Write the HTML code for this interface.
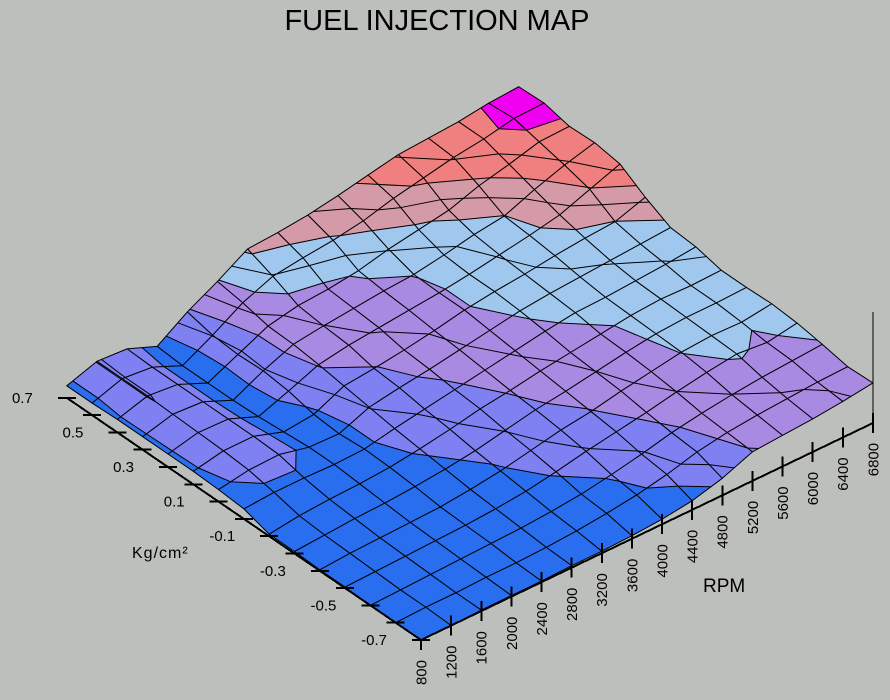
<!DOCTYPE html>
<html><head><meta charset="utf-8">
<style>
html,body{margin:0;padding:0;background:#bdbfbc;}
svg{display:block;}
text{font-family:"Liberation Sans",Arial,sans-serif;fill:#000;}
</style></head>
<body>
<svg id="s" width="890" height="700" viewBox="0 0 890 700" xmlns="http://www.w3.org/2000/svg">
<rect width="890" height="700" fill="#bdbfbc"/>
<text x="437" y="30" font-size="29" text-anchor="middle">FUEL INJECTION MAP</text>
<g id="surf"></g>
<g id="axes" stroke="#000" stroke-width="2" shape-rendering="crispEdges"></g>
<g id="lbl" font-size="15"></g>
<text x="132" y="558" font-size="16" letter-spacing="1">Kg/cm²</text>
<text x="703" y="592" font-size="19">RPM</text>
</svg>
<script>
const Z=[
[0,0,1,1,1,2,2,3,5,9,17,29,31,33,36,40],
[0,1,1,2,2,3,5,8,12,18,26,31,34,36,38,39],
[0,1,2,3,4,5,7,10,15,21,28,33,37,40,42,44],
[1,2,3,4,5,7,10,15,21,26,31,37,42,46,43,48],
[1,3,4,5,6,9,13,19,25,29,35,40,45,47,46,50],
[2,4,6,7,9,12,16,22,28,32,37,42,46,48,48,49],
[2,6,8,9,11,15,20,26,30,35,39,43,47,49,48,49],
[10,12,12,11,12,18,23,28,33,38,43,47,48,50,52,55],
[12,17,18,11,10,22,27,31,36,41,46,49,51,53,55,57],
[13,19,19,9,12,26,29,33,38,44,48,51,55,58,60,70],
[13,20,19,7,18,30,35,38,41,44,48,53,58,64,75,86],
[13,21,19,6,21,33,37,40,43,45,50,56,60,72,82,90],
[13,22,19,6,20,34,40,42,46,53,58,63,73,80,88,89],
[12,22,19,6,22,40,52,56,59,64,72,78,84,88,94,95],
[12,22,20,8,28,44,62,64,67,72,78,84,86,88,92,94]
];
const LV=[14,29.4,44.8,60.2,75.6,91];
const COL=['#2a6ef0','#7f80f2','#a88ae2','#a0c8ee','#d49aa8','#f08080','#f000f0'];
const CL=[];for(let k=0;k<=10;k++)CL.push(14+7.7*k);
function pt(i,j){const z=Z[j][i];return {x:421+30.13*i-25.3*j,y:640-14.47*i-17.3*j-z,z:z};}
function lerp(a,b,t){return {x:a.x+(b.x-a.x)*t,y:a.y+(b.y-a.y)*t,z:a.z+(b.z-a.z)*t};}
function clip(poly,L,above){
  const out=[];
  for(let k=0;k<poly.length;k++){
    const a=poly[k],b=poly[(k+1)%poly.length];
    const ia=above?a.z>=L:a.z<=L, ib=above?b.z>=L:b.z<=L;
    if(ia)out.push(a);
    if(ia!==ib){const t=(L-a.z)/(b.z-a.z);out.push(lerp(a,b,t));}
  }
  return out;
}
function ps(p){return p.map(v=>v.x.toFixed(2)+','+v.y.toFixed(2)).join(' ');}
const quads=[];
for(let j=0;j<14;j++)for(let i=0;i<15;i++)quads.push({i,j,d:14.47*(i+.5)+17.3*(j+.5)});
quads.sort((a,b)=>b.d-a.d);
let s='';
for(const q of quads){
  const A=pt(q.i,q.j),B=pt(q.i+1,q.j),C=pt(q.i+1,q.j+1),D=pt(q.i,q.j+1);
  const poly=[A,B,C,D];
  for(let b=0;b<7;b++){
    let p=poly;
    if(b>0)p=clip(p,LV[b-1],true);
    if(p.length>=3&&b<6)p=clip(p,LV[b],false);
    if(p.length>=3)s+='<polygon points="'+ps(p)+'" fill="'+COL[b]+'" stroke="'+COL[b]+'" stroke-width="0.8"/>';
  }
  const E=[[A,B],[B,C],[C,D],[D,A]];
  for(const L of CL){
    const pts=[];
    for(const [a,b] of E){
      if((a.z<L)!==(b.z<L)){const t=(L-a.z)/(b.z-a.z);pts.push(lerp(a,b,t));}
    }
    for(let k=0;k+1<pts.length;k+=2)
      s+='<line x1="'+pts[k].x.toFixed(2)+'" y1="'+pts[k].y.toFixed(2)+'" x2="'+pts[k+1].x.toFixed(2)+'" y2="'+pts[k+1].y.toFixed(2)+'" stroke="#000" stroke-width="1"/>';
  }
  s+='<polygon points="'+ps(poly)+'" fill="none" stroke="#000" stroke-width="1" stroke-linejoin="round"/>';
}
document.getElementById('surf').innerHTML=s;
let ax='<line x1="67" y1="398" x2="421" y2="640"/><line x1="421" y1="640" x2="873" y2="423"/><line x1="873" y1="423" x2="873" y2="312" stroke-width="1"/>';
let lb='';
const pl=['-0.7','','-0.5','','-0.3','','-0.1','','0.1','','0.3','','0.5','','0.7'];
for(let j=0;j<15;j++){
  const x=421-25.3*j,y=640-17.3*j;
  ax+='<line x1="'+(x-9).toFixed(1)+'" y1="'+y.toFixed(1)+'" x2="'+(x+9).toFixed(1)+'" y2="'+y.toFixed(1)+'"/>';
  if(pl[j])lb+='<text x="'+(x-34).toFixed(1)+'" y="'+(y+5).toFixed(1)+'" text-anchor="end">'+pl[j]+'</text>';
}
for(let i=0;i<16;i++){
  const x=421+30.13*i,y=640-14.47*i;
  ax+='<line x1="'+x.toFixed(1)+'" y1="'+(i==0?y:y-10).toFixed(1)+'" x2="'+x.toFixed(1)+'" y2="'+(y+10).toFixed(1)+'"/>';
  lb+='<text transform="translate('+(x+5.4).toFixed(1)+','+(y+20).toFixed(1)+') rotate(-90)" text-anchor="end">'+(800+400*i)+'</text>';
}
document.getElementById('axes').innerHTML=ax;
document.getElementById('lbl').innerHTML=lb;
</script>
</body></html>
